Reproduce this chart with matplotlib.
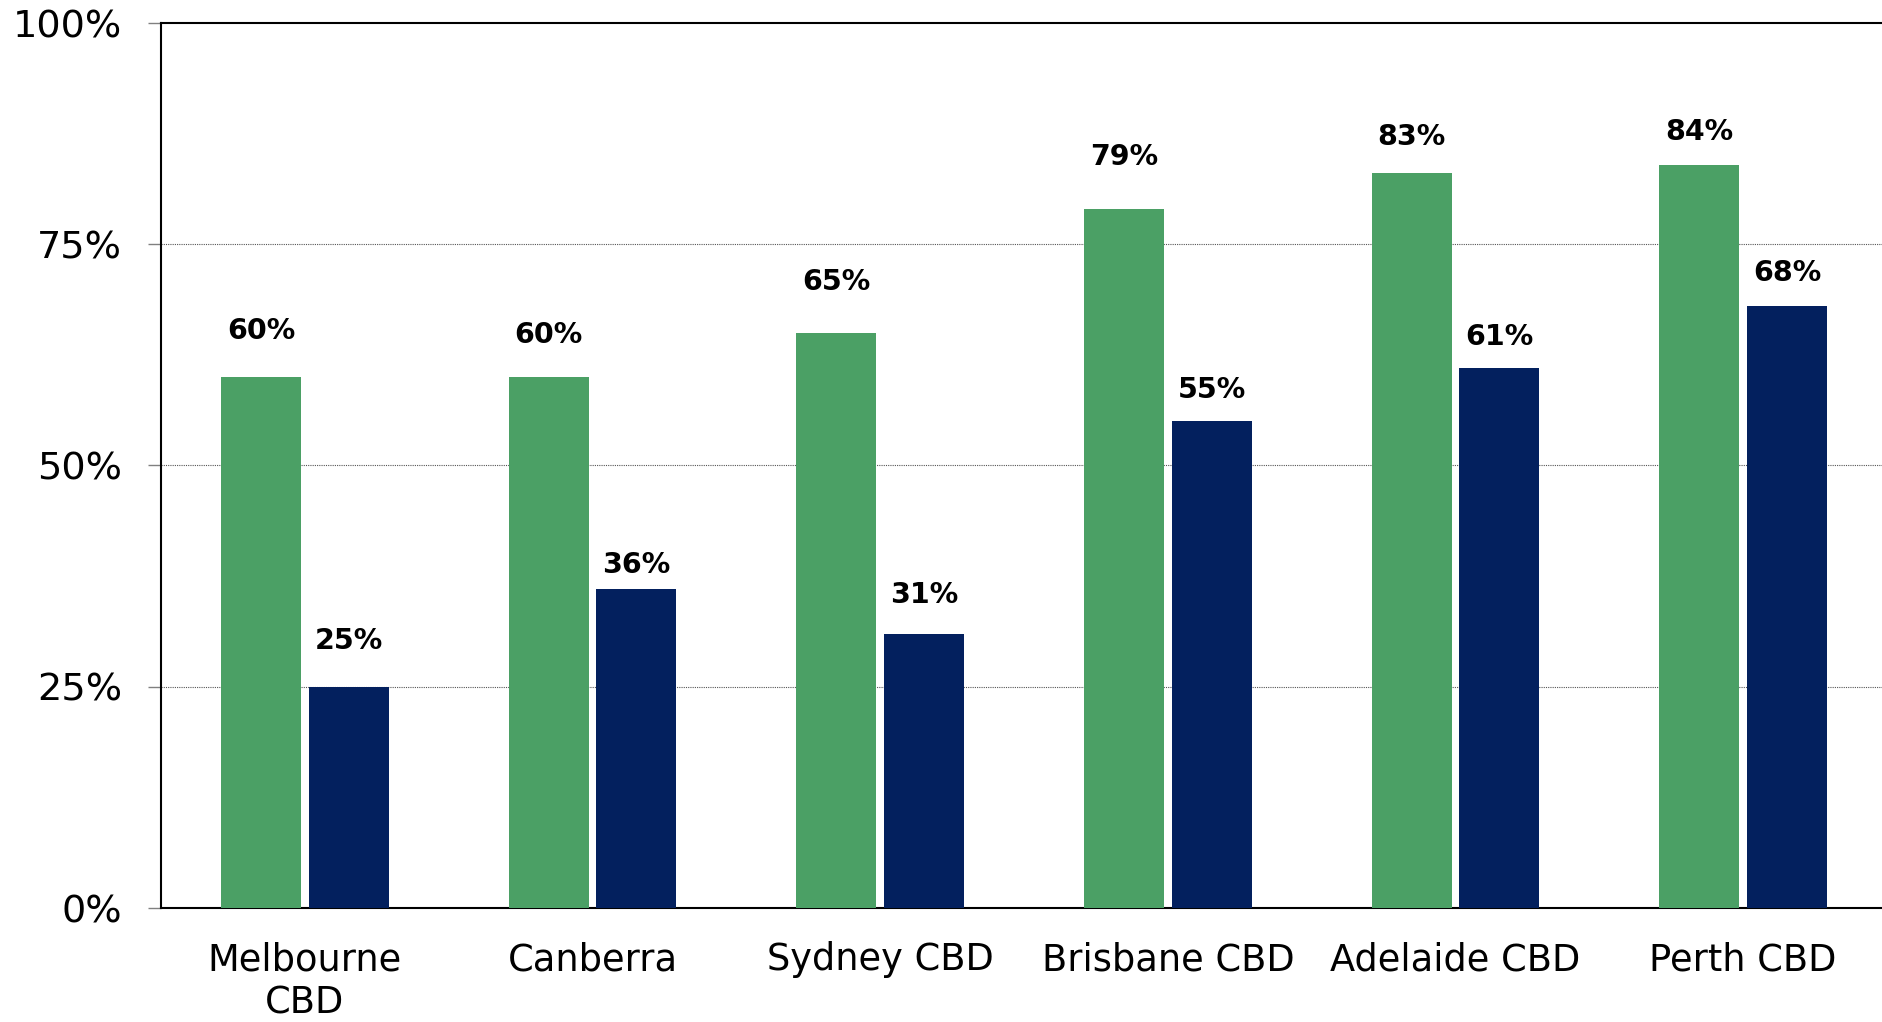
import matplotlib
matplotlib.use("Agg")
import matplotlib.pyplot as plt
import numpy as np

categories = ["Melbourne\nCBD", "Canberra", "Sydney CBD", "Brisbane CBD", "Adelaide CBD", "Perth CBD"]
series_green = [60, 60, 65, 79, 83, 84]
series_navy = [25, 36, 31, 55, 61, 68]
ytick_values = [0, 25, 50, 75, 100]
ytick_labels = ["0%", "25%", "50%", "75%", "100%"]

# label gap above each bar (points), as placed in the original
label_gap_green = [27.1, 24.7, 31.0, 31.4, 20.2, 18.0]
label_gap_navy = [27.1, 12.0, 22.1, 16.6, 16.6, 18.0]

GREEN = "#4BA065"
NAVY = "#03205E"

plt.rcParams['font.family'] = ['DejaVu Sans']

fig = plt.figure(figsize=(18.83, 10.22), dpi=100)
ax = fig.add_axes([161/1883, 114/1022, 1726/1883, 885/1022])

x = np.arange(len(categories))
w = 0.278
off = 0.1526
b1 = ax.bar(x - off, series_green, width=w, color=GREEN, zorder=3)
b2 = ax.bar(x + off, series_navy, width=w, color=NAVY, zorder=3)

for bars, vals, gaps in ((b1, series_green, label_gap_green), (b2, series_navy, label_gap_navy)):
    for rect, v, g in zip(bars, vals, gaps):
        ax.annotate(f"{v}%", (rect.get_x() + rect.get_width()/2, v),
                    xytext=(0, g), textcoords="offset points",
                    ha="center", va="baseline", fontsize=20.5, fontweight="bold",
                    color="black")

ax.set_xlim(-0.5, 5.5)
ax.set_ylim(0, 100)
ax.set_yticks(ytick_values)
ax.set_yticklabels(ytick_labels)
ax.set_xticks(x)
ax.set_xticklabels(categories, linespacing=1.2)

ax.tick_params(axis='y', length=9.4, width=1.0, color="#808080", pad=18.5, labelsize=27.5)
ax.tick_params(axis='x', length=0, pad=24, labelsize=26.5)

for yv in [25, 50, 75]:
    ax.axhline(yv, color="#555555", linestyle=(0, (1, 1)), linewidth=0.8, zorder=1)

for s in ["left", "bottom", "top"]:
    ax.spines[s].set_linewidth(1.5)
    ax.spines[s].set_color("black")
ax.spines["right"].set_visible(False)

fig.savefig("out.png", dpi=100, facecolor="white")
